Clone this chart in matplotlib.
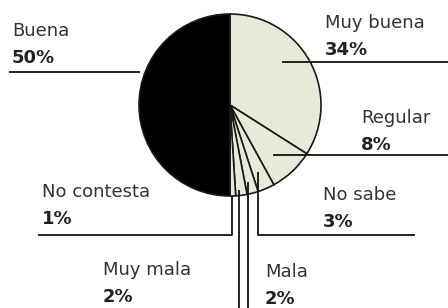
import matplotlib
matplotlib.use("Agg")
import matplotlib.pyplot as plt

# -------------------------------
# Data
# -------------------------------
labels = ["Muy buena", "Regular", "No sabe", "Mala", "Muy mala", "No contesta", "Buena"]
values = [34, 8, 3, 2, 2, 1, 50]
colors = ["#e9e9da"] * 6 + ["#000000"]

# -------------------------------
# Layout (pixel coords, y down)
# -------------------------------
W, H = 448, 308
center = (230, 105)
radius = 91

# text anchor (left x, baseline of label)
text_pos = {
    "Muy buena": (325, 28),
    "Regular": (361, 123),
    "No sabe": (323, 200),
    "Mala": (265, 277),
    "Muy mala": (103, 275),
    "No contesta": (42, 197),
    "Buena": (12, 36),
}
line_gap = 27

# leader lines
leaders = {
    "Muy buena": [(282, 62), (448, 62)],
    "Regular": [(273, 155), (448, 155)],
    "No sabe": [(258, 172), (258, 235), (415, 235)],
    "Mala": [(248, 182), (248, 308)],
    "Muy mala": [(239, 190), (239, 308)],
    "No contesta": [(232, 196), (232, 235), (38, 235)],
    "Buena": [(140, 72), (9, 72)],
}

fig = plt.figure(figsize=(W / 100, H / 100), dpi=100)
ax = fig.add_axes([0, 0, 1, 1])

# y axis is inverted, so counterclock in data space reads clockwise on screen
ax.pie(values, colors=colors, startangle=-90, counterclock=True,
       center=center, radius=radius,
       wedgeprops=dict(edgecolor="#1a1a1a", linewidth=1.2))

ax.set_xlim(0, W)
ax.set_ylim(H, 0)
ax.set_aspect("equal")
ax.axis("off")

for lab, val in zip(labels, values):
    pts = leaders[lab]
    xs = [p[0] for p in pts]
    ys = [p[1] for p in pts]
    ax.plot(xs, ys, color="#111111", linewidth=1.3, solid_capstyle="butt", zorder=5)

    tx, ty = text_pos[lab]
    ax.text(tx, ty, lab, fontsize=13, color="#333333", va="baseline", ha="left")
    ax.text(tx, ty + line_gap, f"{val}%", fontsize=13, fontweight="bold",
            color="#222222", va="baseline", ha="left")

fig.savefig("out.png", dpi=100)
